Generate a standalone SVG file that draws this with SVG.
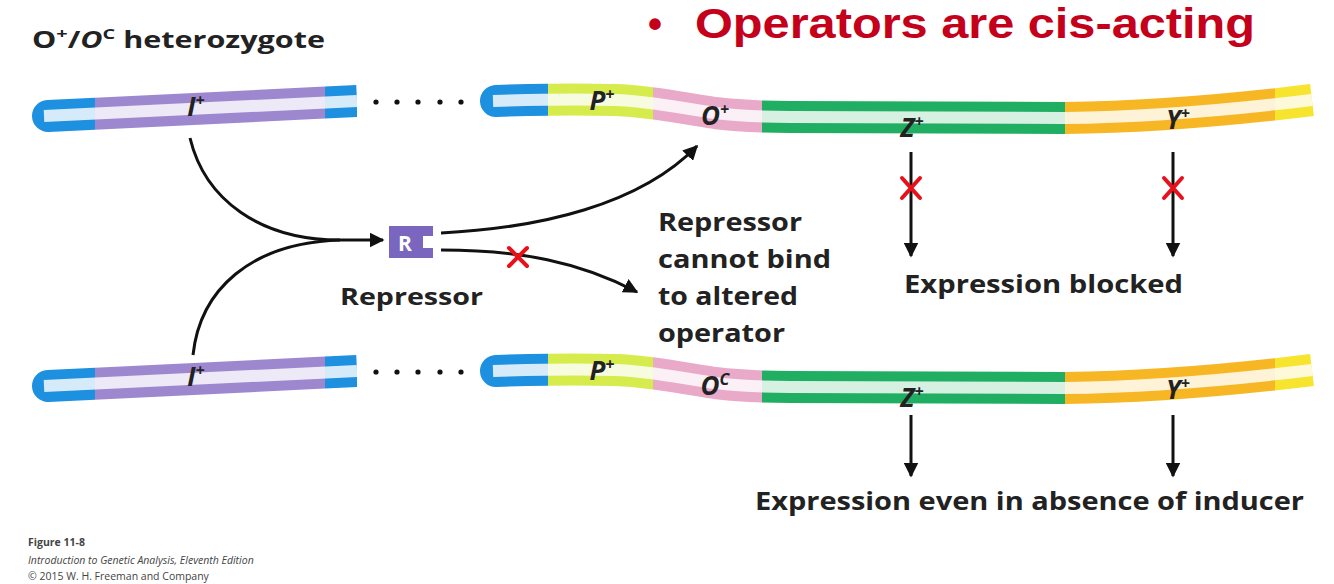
<svg xmlns="http://www.w3.org/2000/svg" xmlns:xlink="http://www.w3.org/1999/xlink" width="1334" height="584" viewBox="0 0 1334 584">
<style>
.lbl{font-family:"Open Sans","Liberation Sans",sans-serif;font-weight:700;fill:#222;}
.gene{font-family:"Open Sans","Liberation Sans",sans-serif;font-weight:700;font-style:italic;font-size:26px;fill:#222;text-anchor:middle;}
.conn{fill:none;stroke:#111;stroke-width:3;}
.x{stroke:#e8101a;stroke-width:4;stroke-linecap:round;}
.tube{fill:none;stroke-width:32;}
.hl{fill:none;stroke:#fff;stroke-width:12;stroke-opacity:0.82;}
.foot{font-family:"Open Sans","Liberation Sans",sans-serif;font-size:10.5px;fill:#444;}
</style>
<defs>
<marker id="ah" viewBox="0 0 10 10" refX="9" refY="5" markerWidth="5" markerHeight="5" orient="auto" markerUnits="strokeWidth">
<path d="M0,0 L10,5 L0,10 z" fill="#111"/>
</marker>
<path id="cl" d="M48,116 L357,101"/>
<path id="cr" d="M496,101 C525,100 570,99 615,100 C650,101 680,108 715,113 C740,116 760,117 790,117 L1065,118 C1150,117 1230,110 1312,100"/>
<clipPath id="kB1"><rect x="0" y="0" width="95" height="584"/></clipPath>
<clipPath id="kPu"><rect x="95" y="0" width="230" height="584"/></clipPath>
<clipPath id="kB2"><rect x="325" y="0" width="32" height="584"/></clipPath>
<clipPath id="kB3"><rect x="470" y="0" width="78" height="584"/></clipPath>
<clipPath id="kP"><rect x="548" y="0" width="105" height="584"/></clipPath>
<clipPath id="kO"><rect x="653" y="0" width="109" height="584"/></clipPath>
<clipPath id="kZ"><rect x="762" y="0" width="303" height="584"/></clipPath>
<clipPath id="kY"><rect x="1065" y="0" width="210" height="584"/></clipPath>
<clipPath id="kT"><rect x="1275" y="0" width="50" height="584"/></clipPath>
<g id="tubeL">
<use xlink:href="#cl" class="tube" stroke="#1e90e0" stroke-linecap="round" clip-path="url(#kB1)"/>
<use xlink:href="#cl" class="tube" stroke="#9d88cf" clip-path="url(#kPu)"/>
<use xlink:href="#cl" class="tube" stroke="#1e90e0" clip-path="url(#kB2)"/>
<path d="M44,116 L357,101" class="hl"/>
</g>
<g id="tubeR">
<use xlink:href="#cr" class="tube" stroke="#1e90e0" stroke-linecap="round" clip-path="url(#kB3)"/>
<use xlink:href="#cr" class="tube" stroke="#d6ec4c" clip-path="url(#kP)"/>
<use xlink:href="#cr" class="tube" stroke="#e9a9c9" clip-path="url(#kO)"/>
<use xlink:href="#cr" class="tube" stroke="#1fae62" clip-path="url(#kZ)"/>
<use xlink:href="#cr" class="tube" stroke="#f7b624" clip-path="url(#kY)"/>
<use xlink:href="#cr" class="tube" stroke="#f6e42e" clip-path="url(#kT)"/>
<path d="M493,101 C525,100 570,99 615,100 C650,101 680,108 715,113 C740,116 760,117 790,117 L1065,118 C1150,117 1230,110 1312,100" class="hl"/>
</g>
<g id="dots" fill="#111">
<circle cx="376" cy="102" r="2.6"/><circle cx="397" cy="102" r="2.6"/><circle cx="418" cy="102" r="2.6"/><circle cx="440" cy="102" r="2.6"/><circle cx="461" cy="102" r="2.6"/>
</g>
</defs>
<rect width="1334" height="584" fill="#fff"/>

<g id="title">
<text x="648" y="38" font-family="Liberation Sans, Arial, sans-serif" font-weight="700" font-size="40" fill="#c4001a">•</text>
<text x="695" y="38" font-family="Liberation Sans, Arial, sans-serif" font-weight="700" font-size="42" fill="#c4001a" textLength="560" lengthAdjust="spacingAndGlyphs">Operators are cis-acting</text>
</g>
<g id="heading">
<text x="32" y="48" class="lbl" font-size="23" textLength="293" lengthAdjust="spacingAndGlyphs">O<tspan font-size="15" dy="-9">+</tspan><tspan dy="9">/</tspan><tspan font-style="italic">O</tspan><tspan font-size="15" dy="-9">C</tspan><tspan dy="9"> heterozygote</tspan></text>
</g>

<g id="chrom-top-I">
<use xlink:href="#tubeL"/>
<text x="196" y="116" class="gene">I<tspan font-size="16" dy="-10">+</tspan></text>
</g>
<g id="dots-top"><use xlink:href="#dots"/></g>
<g id="chrom-top-operon">
<use xlink:href="#tubeR"/>
<text x="602" y="110" class="gene">P<tspan font-size="16" dy="-10">+</tspan></text>
<text x="715" y="125" class="gene">O<tspan font-size="16" dy="-10">+</tspan></text>
<text x="912" y="137" class="gene">Z<tspan font-size="16" dy="-10">+</tspan></text>
<text x="1178" y="129" class="gene">Y<tspan font-size="16" dy="-10">+</tspan></text>
</g>

<g id="chrom-bottom-I" transform="translate(0,270)">
<use xlink:href="#tubeL"/>
<text x="196" y="116" class="gene">I<tspan font-size="16" dy="-10">+</tspan></text>
</g>
<g id="dots-bottom" transform="translate(0,270)"><use xlink:href="#dots"/></g>
<g id="chrom-bottom-operon" transform="translate(0,270)">
<use xlink:href="#tubeR"/>
<text x="602" y="110" class="gene">P<tspan font-size="16" dy="-10">+</tspan></text>
<text x="715" y="125" class="gene">O<tspan font-size="16" dy="-10">C</tspan></text>
<text x="912" y="137" class="gene">Z<tspan font-size="16" dy="-10">+</tspan></text>
<text x="1178" y="129" class="gene">Y<tspan font-size="16" dy="-10">+</tspan></text>
</g>

<g id="repressor">
<rect x="389" y="226" width="44" height="32" fill="#7a66bf"/>
<rect x="423" y="236" width="12" height="12" fill="#fff"/>
<text x="405" y="251" font-family="Open Sans, Liberation Sans, sans-serif" font-weight="700" font-size="21" fill="#fff" text-anchor="middle">R</text>
<text x="340" y="305" class="lbl" font-size="23" textLength="143" lengthAdjust="spacingAndGlyphs">Repressor</text>
</g>

<g id="note-cannot-bind">
<text class="lbl" font-size="25">
<tspan x="658" y="231" textLength="144" lengthAdjust="spacingAndGlyphs">Repressor</tspan>
<tspan x="658" y="268" textLength="173" lengthAdjust="spacingAndGlyphs">cannot bind</tspan>
<tspan x="658" y="305" textLength="140" lengthAdjust="spacingAndGlyphs">to altered</tspan>
<tspan x="658" y="342" textLength="127" lengthAdjust="spacingAndGlyphs">operator</tspan>
</text>
</g>

<g id="label-blocked">
<text x="904" y="293" class="lbl" font-size="25" textLength="279" lengthAdjust="spacingAndGlyphs">Expression blocked</text>
</g>
<g id="label-expression">
<text x="755" y="510" class="lbl" font-size="25" textLength="549" lengthAdjust="spacingAndGlyphs">Expression even in absence of inducer</text>
</g>

<g id="connectors">
<path class="conn" d="M190,138 C205,200 260,240 340,240 L383,240" marker-end="url(#ah)"/>
<path class="conn" d="M193,355 C200,290 250,243 340,240"/>
<path class="conn" d="M441,233 C540,228 640,205 697,146" marker-end="url(#ah)"/>
<path class="conn" d="M441,250 C520,250 580,262 637,292" marker-end="url(#ah)"/>
<path class="conn" d="M911,152 L911,256" marker-end="url(#ah)"/>
<path class="conn" d="M1173,152 L1173,256" marker-end="url(#ah)"/>
<path class="conn" d="M911,415 L911,476" marker-end="url(#ah)"/>
<path class="conn" d="M1173,415 L1173,476" marker-end="url(#ah)"/>
<g class="x">
<path d="M509,248 L527,266 M527,248 L509,266"/>
<path d="M902,178 L920,198 M920,178 L902,198"/>
<path d="M1164,178 L1182,198 M1182,178 L1164,198"/>
</g>
</g>

<g id="footer">
<text x="28" y="546" class="foot" font-weight="700">Figure 11-8</text>
<text x="28" y="564" class="foot" font-style="italic">Introduction to Genetic Analysis, Eleventh Edition</text>
<text x="28" y="580" class="foot">© 2015 W. H. Freeman and Company</text>
</g>
</svg>
